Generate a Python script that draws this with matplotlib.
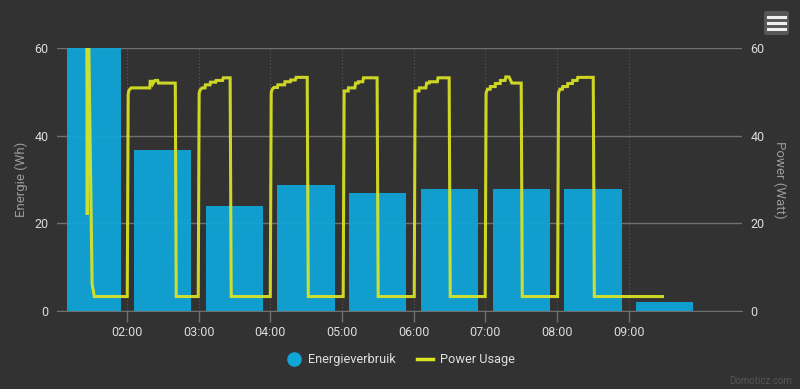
import matplotlib
matplotlib.use("Agg")
import matplotlib.pyplot as plt
from matplotlib.lines import Line2D
from matplotlib.patches import FancyBboxPatch

# ---------------- data ----------------
bar_hours = [1.54, 2.5, 3.5, 4.5, 5.5, 6.5, 7.5, 8.5, 9.5]
bar_values = [75, 36.7, 24.0, 28.8, 26.9, 27.8, 27.8, 27.8, 2.0]

power_t = [1.440, 1.447, 1.456, 1.515, 1.528, 1.545,
           2.005, 2.018, 2.030, 2.060, 2.320, 2.325, 2.350, 2.360, 2.390, 2.430, 2.440, 2.675, 2.688,
           2.995, 3.008, 3.020, 3.050, 3.090, 3.095, 3.160, 3.165, 3.240, 3.245, 3.335, 3.345, 3.440, 3.455,
           4.000, 4.013, 4.025, 4.050, 4.100, 4.105, 4.200, 4.205, 4.280, 4.285, 4.350, 4.360, 4.515, 4.530,
           5.017, 5.030, 5.087, 5.090, 5.180, 5.190, 5.225, 5.230, 5.290, 5.300, 5.490, 5.505,
           6.008, 6.020, 6.075, 6.080, 6.170, 6.180, 6.215, 6.220, 6.330, 6.340, 6.495, 6.510,
           6.998, 7.010, 7.030, 7.067, 7.070, 7.137, 7.140, 7.207, 7.210, 7.275, 7.285, 7.330, 7.370, 7.500, 7.515,
           8.008, 8.020, 8.040, 8.075, 8.080, 8.145, 8.150, 8.215, 8.220, 8.280, 8.290, 8.505, 8.520,
           9.470]
power_v = [75, 22, 75, 6.0, 5.0, 3.3,
           3.3, 49.5, 50.4, 50.9, 50.9, 52.4, 52.4, 51.8, 52.6, 52.6, 52.0, 52.0, 3.3,
           3.3, 49.7, 50.4, 50.9, 50.9, 51.6, 51.6, 52.2, 52.2, 52.6, 52.6, 53.2, 53.2, 3.3,
           3.3, 49.8, 50.5, 51.0, 51.0, 51.6, 51.6, 52.3, 52.3, 52.7, 52.7, 53.3, 53.3, 3.3,
           3.3, 50.2, 50.2, 50.9, 50.9, 52.0, 52.0, 52.3, 52.3, 53.2, 53.2, 3.3,
           3.3, 50.2, 50.2, 50.9, 50.9, 52.0, 52.0, 52.3, 52.3, 53.2, 53.2, 3.3,
           3.3, 49.7, 50.6, 50.6, 51.2, 51.2, 51.9, 51.9, 52.6, 52.6, 53.4, 53.4, 52.0, 52.0, 3.3,
           3.3, 49.7, 50.6, 50.6, 51.2, 51.2, 51.9, 51.9, 52.6, 52.6, 53.3, 53.3, 3.3,
           3.3]

x_ticks = [2, 3, 4, 5, 6, 7, 8, 9]
x_labels = ["02:00", "03:00", "04:00", "05:00", "06:00", "07:00", "08:00", "09:00"]
y_ticks = [0, 20, 40, 60]

# ---------------- style ----------------
BG = "#323232"
BAR_C = "#10a5d7"
LINE_C = "#dbe524"
GRID_C = "#707070"
TICK_C = "#dcdcdc"
LABEL_C = "#9a9a9a"
bar_widths = [0.75] + [0.8] * (len(bar_hours) - 1)
plt.rcParams["font.family"] = ["Roboto", "DejaVu Sans"]

fig = plt.figure(figsize=(8, 3.89), dpi=100, facecolor=BG)
ax = fig.add_axes([0.07125, 0.2005, 0.85625, 0.6761])
ax.set_facecolor(BG)

ax.bar(bar_hours, bar_values, width=bar_widths, color=BAR_C, alpha=0.95, zorder=2, linewidth=0)
ax.set_xlim(1.025, 10.58)
ax.set_ylim(0, 60)
ax.set_yticks(y_ticks)
ax.set_xticks(x_ticks)
ax.set_xticklabels(x_labels)
ax.grid(axis="y", color=GRID_C, linewidth=1, zorder=1)
for t in x_ticks:
    ax.axvline(t, color="#5a5a5a", linewidth=0.8, linestyle=(0, (1, 2)), zorder=1)
for s in ["top", "left", "right"]:
    ax.spines[s].set_visible(False)
ax.spines["bottom"].set_color(GRID_C)
ax.tick_params(axis="x", colors=GRID_C, labelcolor=TICK_C, labelsize=9, length=8, width=1, pad=3)
ax.tick_params(axis="y", length=0, labelcolor=TICK_C, labelsize=9, pad=6)
ax.set_ylabel("Energie (Wh)", color=LABEL_C, fontsize=9.5, labelpad=5)

ax2 = ax.twinx()
ax2.set_ylim(0, 60)
ax2.set_yticks(y_ticks)
for s in ["top", "left", "right", "bottom"]:
    ax2.spines[s].set_visible(False)
ax2.tick_params(axis="y", length=0, labelcolor=TICK_C, labelsize=9, pad=6)
ax2.set_ylabel("Power (Watt)", color=LABEL_C, fontsize=9.5, rotation=270, labelpad=16)
ax2.plot(power_t, power_v, color=LINE_C, linewidth=2.2, alpha=0.92, zorder=3,
         solid_joinstyle="miter")

# legend
handles = [Line2D([], [], marker="o", linestyle="none", markersize=9.5, color=BAR_C),
           Line2D([], [], color=LINE_C, linewidth=2.5)]
fig.legend(handles, ["Energieverbruik", "Power Usage"], loc="center",
           bbox_to_anchor=(0.5, 1 - 360 / 389), ncol=2, frameon=False,
           fontsize=9.2, labelcolor="#e0e0e0", handlelength=1.3, columnspacing=1.6,
           handletextpad=0.5)

# hamburger menu icon
box = FancyBboxPatch((764 / 800, 1 - 35 / 389), 25 / 800, 24 / 389,
                     boxstyle="round,pad=0,rounding_size=0.004", transform=fig.transFigure,
                     facecolor="#575757", edgecolor="none")
fig.patches.append(box)
for yy in [17, 23, 29]:
    fig.add_artist(Line2D([768 / 800, 785 / 800], [1 - yy / 389] * 2, color="#f0f0f0",
                          linewidth=2.2, transform=fig.transFigure))

fig.text(792 / 800, 1 - 381 / 389, "Domoticz.com", color="#555555", fontsize=7,
         ha="right", va="center")

fig.savefig("out.png", dpi=100, facecolor=BG)
